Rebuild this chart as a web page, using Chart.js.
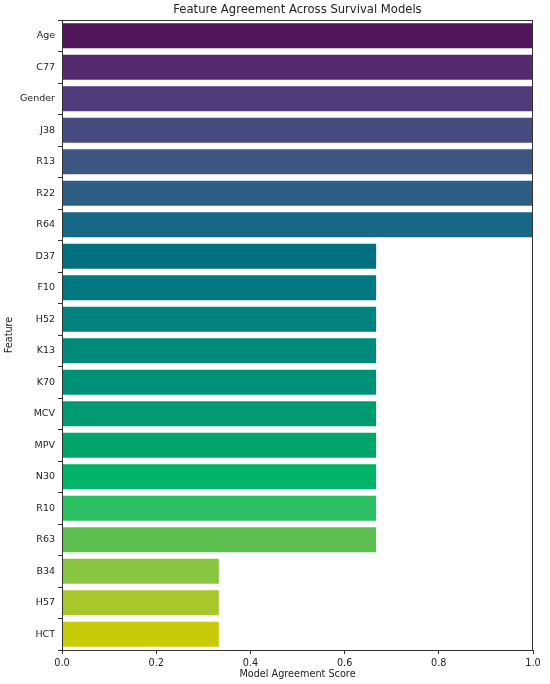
<!DOCTYPE html>
<html>
<head>
<meta charset="utf-8">
<script src="https://cdn.jsdelivr.net/npm/chart.js@4/dist/chart.umd.min.js"></script>
<style>
  html, body { margin: 0; padding: 0; background: #fff; }
  #wrap { width: 550px; height: 684px; }
</style>
</head>
<body>
<div id="wrap"><canvas id="agreement"></canvas></div>
<script>
// features and their agreement score across the survival models
const features = ['Age', 'C77', 'Gender', 'J38', 'R13', 'R22', 'R64', 'D37', 'F10', 'H52',
  'K13', 'K70', 'MCV', 'MPV', 'N30', 'R10', 'R63', 'B34', 'H57', 'HCT']
const scores = [1, 1, 1, 1, 1, 1, 1, 0.667, 0.667, 0.667,
  0.667, 0.667, 0.667, 0.667, 0.667, 0.667, 0.667, 0.333, 0.333, 0.333]
const barColors = ['#51165a', '#532a6e', '#4f3a7b', '#484b80', '#3f5682', '#2f5e85', '#176886',
  '#02707e', '#007a80', '#00827e', '#008a7a', '#009276', '#009a72', '#00a56c', '#00b46a',
  '#2cbe62', '#5fc052', '#88c540', '#a7c82b', '#c8cb0a']
const xTicks = [0, 0.2, 0.4, 0.6, 0.8, 1.0]

const FONT = 'DejaVu Sans'
const INK = '#222'

Chart.defaults.font.family = FONT
Chart.defaults.color = INK

// frame round the plot area plus the title, like the matplotlib axes
const frameAndTitle = {
  id: 'frameAndTitle',
  afterDraw(chart) {
    const { ctx, chartArea: a } = chart
    ctx.save()
    ctx.strokeStyle = '#333'
    ctx.lineWidth = 1
    ctx.strokeRect(a.left + 0.5, a.top + 0.5, a.right - a.left - 1, a.bottom - a.top)
    ctx.fillStyle = INK
    ctx.font = `11.6px ${FONT}`
    ctx.textAlign = 'center'
    ctx.textBaseline = 'middle'
    ctx.fillText('Feature Agreement Across Survival Models', (a.left + a.right) / 2, 10)
    ctx.restore()
  },
}

new Chart(document.getElementById('agreement'), {
  type: 'bar',
  data: {
    labels: features,
    datasets: [
      {
        data: scores,
        backgroundColor: barColors,
        borderColor: barColors,
        borderWidth: 0,
        categoryPercentage: 0.8,
        barPercentage: 1,
      },
    ],
  },
  options: {
    indexAxis: 'y',
    responsive: true,
    maintainAspectRatio: false,
    animation: false,
    layout: { padding: { top: 20, right: 17, left: 0, bottom: 0 } },
    scales: {
      x: {
        min: 0,
        max: 1,
        afterBuildTicks: scale => {
          scale.ticks = xTicks.map(v => ({ value: v }))
        },
        afterFit: scale => {
          scale.height = 34
        },
        ticks: {
          callback: v => Number(v).toFixed(1),
          font: { size: 9.7 },
          color: INK,
          padding: 4,
          maxRotation: 0,
        },
        grid: {
          display: true,
          drawOnChartArea: false,
          drawTicks: true,
          tickLength: 4,
          tickColor: '#333',
        },
        border: { display: false },
        title: {
          display: true,
          text: 'Model Agreement Score',
          font: { size: 9.7 },
          color: INK,
          padding: { top: 0, bottom: 4 },
        },
      },
      y: {
        afterFit: scale => {
          scale.width = 62
        },
        ticks: {
          font: { size: 9.5 },
          color: INK,
          padding: 3,
        },
        grid: {
          display: true,
          drawOnChartArea: false,
          drawTicks: true,
          tickLength: 4,
          tickColor: '#333',
        },
        border: { display: false },
        title: {
          display: true,
          text: 'Feature',
          font: { size: 9.7 },
          color: INK,
          padding: { top: 4, bottom: 0 },
        },
      },
    },
    plugins: {
      legend: { display: false },
      tooltip: { enabled: true },
    },
  },
  plugins: [frameAndTitle],
})
</script>
</body>
</html>
